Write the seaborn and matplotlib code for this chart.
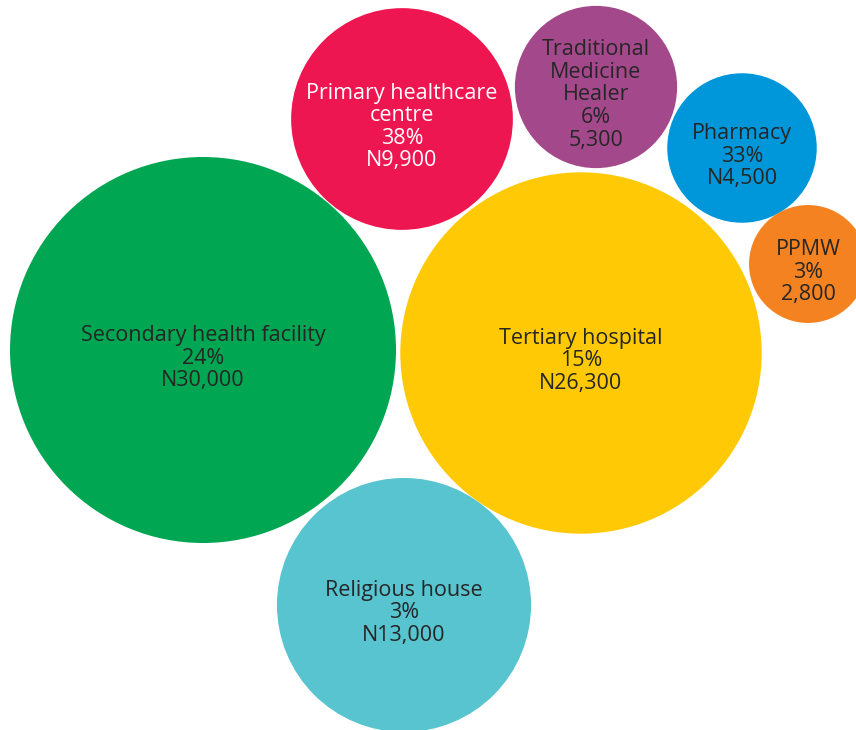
import matplotlib
matplotlib.use("Agg")
import matplotlib.pyplot as plt
import seaborn as sns
import pandas as pd

# Facility types, share of respondents and cost per visit
categories = [
    "Secondary health facility",
    "Tertiary hospital",
    "Religious house",
    "Primary healthcare\ncentre",
    "Traditional\nMedicine\nHealer",
    "Pharmacy",
    "PPMW",
]
shares = ["24%", "15%", "3%", "38%", "6%", "33%", "3%"]
costs = [30000, 26300, 13000, 9900, 5300, 4500, 2800]
currency = ["N", "N", "N", "N", "", "N", ""]

# Packed-bubble layout (pixel space) and styling
centre_x = [203, 581, 404, 402, 596, 742, 808]
centre_y = [350, 353, 605, 119, 87, 148, 264]
colours = ["#00A651", "#FFCA05", "#57C4D0", "#EE1651", "#A3488A", "#0096DA", "#F58220"]
text_colours = ["#262626", "#262626", "#262626", "#FFFFFF", "#262626", "#262626", "#262626"]

W, H, DPI = 856, 730, 100
max_radius_px = 193  # radius of the largest bubble
max_diam_pt = 2 * max_radius_px * 72 / DPI

df = pd.DataFrame({
    "category": categories,
    "cost": costs,
    "x": centre_x,
    "y": centre_y,
})

sns.set_theme(style="white")
plt.rcParams["font.family"] = ["Open Sans", "DejaVu Sans"]

fig = plt.figure(figsize=(W / DPI, H / DPI), dpi=DPI)
ax = fig.add_axes([0, 0, 1, 1])

# Bubble area proportional to cost
sns.scatterplot(
    data=df, x="x", y="y",
    hue="category", palette=dict(zip(categories, colours)),
    size="cost", sizes=(0, max_diam_pt ** 2), size_norm=(0, max(costs)),
    linewidth=0, legend=False, ax=ax, alpha=1,
)

ax.set_xlim(0, W)
ax.set_ylim(H, 0)
ax.set_aspect("equal")
ax.axis("off")

for cat, share, cost, cur, x, y, tc in zip(categories, shares, costs, currency,
                                           centre_x, centre_y, text_colours):
    label = f"{cat}\n{share}\n{cur}{cost:,}"
    ax.text(x, y + 8, label, ha="center", va="center", multialignment="center",
            fontsize=15.5, linespacing=1.1, color=tc)

fig.savefig("out.png", dpi=DPI)
